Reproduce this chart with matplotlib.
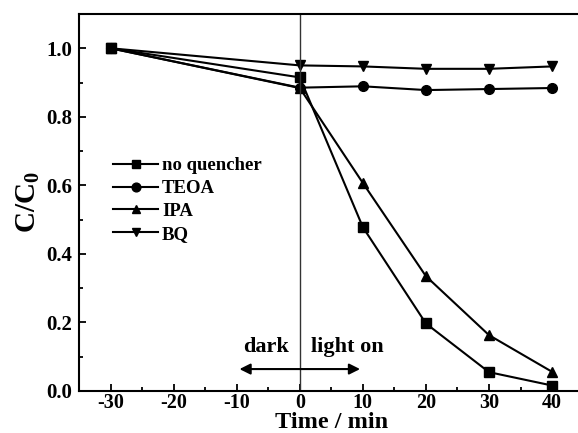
import numpy as np
import matplotlib
matplotlib.use("Agg")
import matplotlib.pyplot as plt
from matplotlib.ticker import MultipleLocator

# photodegradation with different scavengers
time = [-30, 0, 10, 20, 30, 40]
no_quencher = [1.0, 0.915, 0.478, 0.197, 0.055, 0.016]
teoa = [1.0, 0.885, 0.889, 0.878, 0.881, 0.884]
ipa = [1.0, 0.884, 0.607, 0.335, 0.163, 0.056]
bq = [1.0, 0.950, 0.947, 0.940, 0.940, 0.947]

series = [
    ("no quencher", no_quencher, "s"),
    ("TEOA", teoa, "o"),
    ("IPA", ipa, "^"),
    ("BQ", bq, "v"),
]

plt.rcParams['font.family'] = ['Liberation Serif', 'DejaVu Serif']
plt.rcParams['font.weight'] = 'bold'
plt.rcParams['axes.unicode_minus'] = False
plt.rcParams['mathtext.fontset'] = 'custom'
plt.rcParams['mathtext.rm'] = 'Liberation Serif:bold'
plt.rcParams['mathtext.it'] = 'Liberation Serif:bold'
plt.rcParams['mathtext.bf'] = 'Liberation Serif:bold'

fig = plt.figure(figsize=(5.78, 4.33), dpi=100)
# axes run slightly past the right edge of the figure
ax = fig.add_axes([0.1367, 0.097, 0.873, 0.8707])

for name, vals, mk in series:
    ax.plot(time, vals, color='black', marker=mk, markersize=7, lw=1.5, label=name)

# dark / light boundary
ax.axvline(0, color='#333333', lw=1.0)
ax.annotate('', xy=(-10, 0.064), xytext=(10, 0.064),
            arrowprops=dict(arrowstyle='<|-|>', color='black', lw=1.5, mutation_scale=16))
ax.text(-5.4, 0.129, 'dark', ha='center', va='center', fontsize=16, fontweight='bold')
ax.text(7.6, 0.129, 'light on', ha='center', va='center', fontsize=16, fontweight='bold')

ax.set_xlim(-35, 45)
ax.set_ylim(0, 1.1)
ax.xaxis.set_major_locator(MultipleLocator(10))
ax.xaxis.set_minor_locator(MultipleLocator(5))
ax.yaxis.set_major_locator(MultipleLocator(0.2))
ax.yaxis.set_minor_locator(MultipleLocator(0.1))
ax.yaxis.set_major_formatter(plt.FormatStrFormatter('%.1f'))
ax.tick_params(which='both', direction='in', width=1.3, labelsize=15)
ax.tick_params(axis='x', pad=1.5, labelsize=14.5)
ax.tick_params(axis='y', pad=5)
ax.tick_params(which='major', length=5)
ax.tick_params(which='minor', length=3)
for s in ax.spines.values():
    s.set_linewidth(1.5)

ax.set_xlabel('Time / min', fontsize=17.5, fontweight='bold', labelpad=-0.5)
ax.set_ylabel('C/C$_0$', fontsize=21, fontweight='bold', labelpad=3)

ax.legend(loc='upper left', bbox_to_anchor=(0.053, 0.64), frameon=False,
          fontsize=13.5, handlelength=2.4, handletextpad=0.2, labelspacing=0.3,
          borderaxespad=0, markerscale=0.9)

fig.savefig('out.png', dpi=100)
